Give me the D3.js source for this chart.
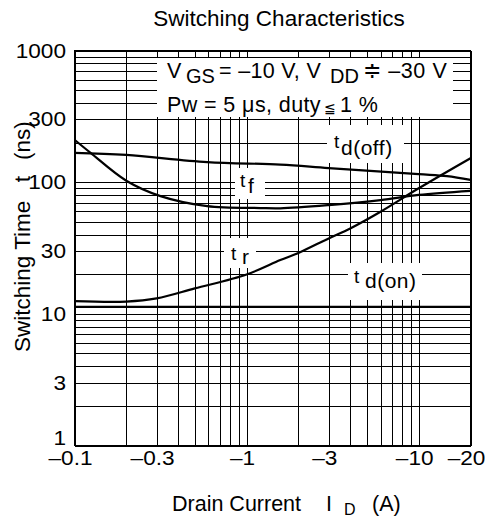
<!DOCTYPE html>
<html lang="en">
<head>
<meta charset="utf-8">
<title>Switching Characteristics</title>
<script src="https://d3js.org/d3.v7.min.js"></script>
<style>
  body { margin: 0; background: #fff; }
  svg { display: block; font-family: "Liberation Sans", Arial, sans-serif; fill: #000; }
  .grid line { stroke: #000; stroke-width: 1; shape-rendering: crispEdges; }
  .frame { fill: none; stroke: #000; stroke-width: 1; shape-rendering: crispEdges; }
  .curve { fill: none; stroke: #000; stroke-width: 2.2; }
  .mask { fill: #fff; }
</style>
</head>
<body>
<svg width="485" height="518"></svg>
<script>
// tick labels (drain current shown as negative amps)
const xTicks = [0.1, 0.3, 1, 3, 10, 20];
const yTicks = [1, 3, 10, 30, 100, 300, 1000];

// |I_D| (A) and switching time (ns)
const tdOffI = [0.1, 0.2, 0.59, 1.57, 3, 10, 14.6, 20];
const tdOffT = [167, 161, 142, 136, 128, 115, 111, 104];

const tfI = [0.1, 0.124, 0.2, 0.316, 0.59, 1.2, 1.57, 3, 6, 10, 20];
const tfT = [210, 167, 102.6, 78.4, 65.8, 63.6, 63.3, 67, 73, 80, 86];

const trI = [0.1, 0.2, 0.3, 0.5, 1, 1.57, 2, 3, 4, 6, 10, 20];
const trT = [12.5, 12.4, 13.1, 15.6, 19.9, 25.6, 29, 37.4, 44.5, 59.6, 89.8, 152];

const tdOnI = [0.1, 20];
const tdOnT = [11.3, 11.3];

const svg = d3.select("svg");

const x = d3.scaleLog().domain([0.1, 20]).range([74.5, 470.5]);
const y = d3.scaleLog().domain([1, 1000]).range([445.5, 50.5]);

// grid
const grid = svg.append("g").attr("class", "grid");
grid.selectAll(".vx")
    .data(x.ticks())
    .join("line")
    .attr("class", "vx")
    .attr("x1", d => Math.round(x(d)) + 0.5)
    .attr("x2", d => Math.round(x(d)) + 0.5)
    .attr("y1", y(1000))
    .attr("y2", y(1));
grid.selectAll(".hy")
    .data(y.ticks())
    .join("line")
    .attr("class", "hy")
    .attr("y1", d => Math.round(y(d)) + 0.5)
    .attr("y2", d => Math.round(y(d)) + 0.5)
    .attr("x1", x(0.1))
    .attr("x2", x(20));

svg.append("rect")
    .attr("class", "frame")
    .attr("x", x(0.1))
    .attr("y", y(1000))
    .attr("width", x(20) - x(0.1))
    .attr("height", y(1) - y(1000));

// white boxes behind the annotations
const masks = [
    [157, 58, 296, 59],
    [327, 125, 77, 38],
    [235, 168, 30, 31],
    [224, 238, 32, 30],
    [348, 263, 74, 37]
];
svg.selectAll(".mask")
    .data(masks)
    .join("rect")
    .attr("class", "mask")
    .attr("x", d => d[0])
    .attr("y", d => d[1])
    .attr("width", d => d[2])
    .attr("height", d => d[3]);

// curves
const line = d3.line()
    .x(d => x(d[0]))
    .y(d => y(d[1]))
    .curve(d3.curveCatmullRom.alpha(0.5));

[[tdOffI, tdOffT], [tfI, tfT], [trI, trT], [tdOnI, tdOnT]].forEach(s => {
    svg.append("path")
        .attr("class", "curve")
        .attr("d", line(d3.zip(s[0], s[1])));
});

// tick labels
svg.selectAll(".xt")
    .data(xTicks)
    .join("text")
    .attr("class", "xt")
    .attr("transform", d => "translate(" + (x(d) - 4) + ",465) scale(1.16,1)")
    .attr("text-anchor", "middle")
    .attr("font-size", 19.5)
    .text(d => "\u2013" + d);

svg.selectAll(".yt")
    .data(yTicks)
    .join("text")
    .attr("class", "yt")
    .attr("transform", d => "translate(66," + (y(d) + (d === 1 ? -0.5 : 7)) + ") scale(1.16,1)")
    .attr("text-anchor", "end")
    .attr("font-size", 19.5)
    .text(d => d);

// title
svg.append("text")
    .attr("x", 279)
    .attr("y", 26)
    .attr("text-anchor", "middle")
    .attr("font-size", 22.5)
    .text("Switching Characteristics");

// axis titles
const xl = svg.append("text").attr("font-size", 21.5);
xl.append("tspan").attr("x", 172).attr("y", 511).text("Drain Current");
xl.append("tspan").attr("x", 326).attr("y", 511).text("I");
xl.append("tspan").attr("x", 344).attr("y", 515).attr("font-size", 16).text("D");
xl.append("tspan").attr("x", 372).attr("y", 511).text("(A)");

const yl = svg.append("text")
    .attr("transform", "translate(30,352) rotate(-90)")
    .attr("font-size", 22.5);
yl.append("tspan").text("Switching Time");
yl.append("tspan").attr("dx", 18.5).text("t");
yl.append("tspan").attr("dx", 16).text("(ns)");

// conditions
const c1 = svg.append("text").attr("font-size", 21.5);
c1.append("tspan").attr("x", 167).attr("y", 78).text("V");
c1.append("tspan").attr("x", 186).attr("y", 83).attr("font-size", 20).text("GS");
c1.append("tspan").attr("x", 219).attr("y", 78).attr("letter-spacing", 0.3).text("= \u201310 V, V");
c1.append("tspan").attr("x", 330).attr("y", 83).attr("font-size", 20).text("DD");
c1.append("tspan").attr("x", 363).attr("y", 78).attr("letter-spacing", 0.6).text("\u2251 \u201330 V");

const c2 = svg.append("text").attr("font-size", 21.5).attr("letter-spacing", 0.4);
c2.append("tspan").attr("x", 167).attr("y", 111.5).text("Pw = 5 \u03bcs, duty");
c2.append("tspan").attr("x", 324).attr("y", 113).attr("font-size", 14).text("\u2266");
c2.append("tspan").attr("x", 340).attr("y", 111.5).text("1 %");

// curve labels: [x, baseline of t, subscript x, baseline of subscript, subscript]
const curveLabels = [
    [334, 148, 341, 155, "d(off)"],
    [240, 187, 248, 193, "f"],
    [231, 260, 242, 264, "r"],
    [354, 283, 365, 288, "d(on)"]
];
curveLabels.forEach(l => {
    const t = svg.append("text").attr("font-size", 21).attr("letter-spacing", 0.5);
    t.append("tspan").attr("x", l[0]).attr("y", l[1]).attr("font-size", 19).text("t");
    t.append("tspan").attr("x", l[2]).attr("y", l[3]).text(l[4]);
});
</script>
</body>
</html>
